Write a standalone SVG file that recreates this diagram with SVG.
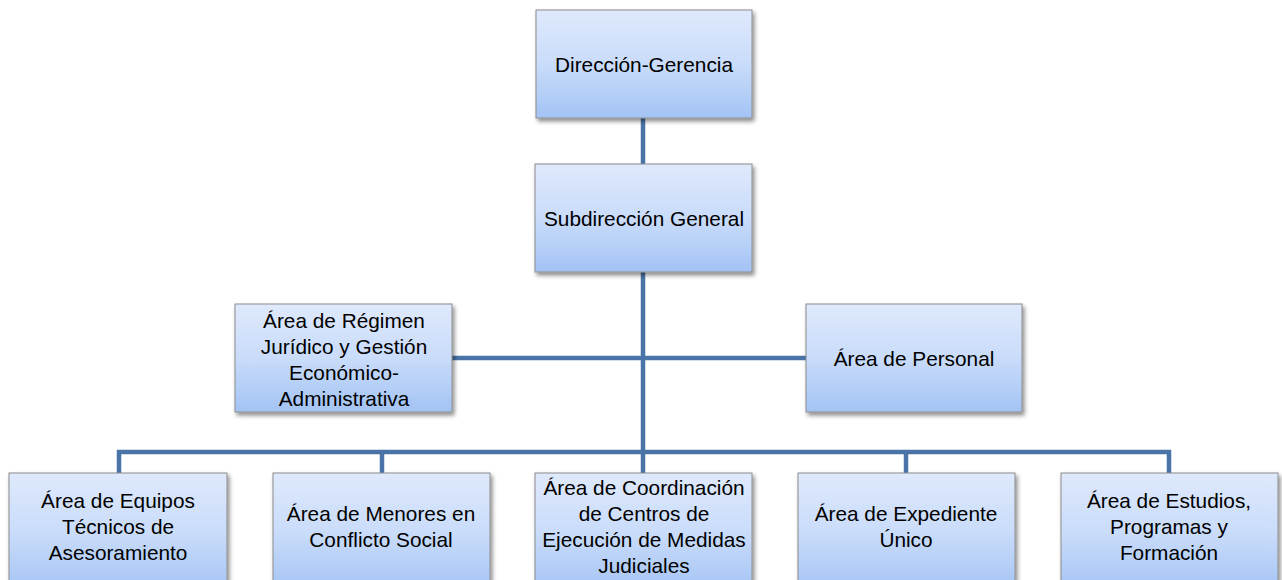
<svg xmlns="http://www.w3.org/2000/svg" width="1282" height="580" viewBox="0 0 1282 580">
<defs>
<linearGradient id="g" x1="0" y1="0" x2="0" y2="1">
<stop offset="0" stop-color="#dfe9fc"/>
<stop offset="0.5" stop-color="#c9dcfa"/>
<stop offset="1" stop-color="#a3c3f4"/>
</linearGradient>
<filter id="sh" x="-10%" y="-10%" width="125%" height="130%">
<feDropShadow dx="2" dy="3" stdDeviation="2" flood-color="#000" flood-opacity="0.45"/>
</filter>
</defs>
<style>
.box{fill:url(#g);stroke:#8c8c8c;stroke-width:1;filter:url(#sh)}
.t{font-family:"Liberation Sans",Arial,sans-serif;font-size:20.8px;fill:#000;text-anchor:middle}
.c{fill:none;stroke:#4a74a8;stroke-width:4.5}
</style>
<rect width="1282" height="580" fill="#fff"/>
<g id="connectors">
<line class="c" x1="643" y1="118" x2="643" y2="164"/>
<line class="c" x1="643" y1="272" x2="643" y2="473"/>
<line class="c" x1="452" y1="358" x2="806" y2="358"/>
<polyline class="c" points="119,473 119,452 1169,452 1169,473"/>
<line class="c" x1="382" y1="452" x2="382" y2="473"/>
<line class="c" x1="906" y1="452" x2="906" y2="473"/>
</g>
<g id="n_direccion">
<rect class="box" x="536" y="10" width="216" height="108"/>
<text class="t" x="644" y="72">Dirección-Gerencia</text>
</g>
<g id="n_subdireccion">
<rect class="box" x="535" y="164" width="217" height="108"/>
<text class="t" x="644" y="226">Subdirección General</text>
</g>
<g id="n_regimen">
<rect class="box" x="235" y="304" width="217" height="108"/>
<text class="t" x="344" y="328">Área de Régimen</text>
<text class="t" x="344" y="354">Jurídico y Gestión</text>
<text class="t" x="344" y="380">Económico-</text>
<text class="t" x="344" y="406">Administrativa</text>
</g>
<g id="n_personal">
<rect class="box" x="806" y="304" width="216" height="108"/>
<text class="t" x="914" y="366">Área de Personal</text>
</g>
<g id="n_equipos">
<rect class="box" x="9" y="473" width="218" height="120"/>
<text class="t" x="118" y="508">Área de Equipos</text>
<text class="t" x="118" y="534">Técnicos de</text>
<text class="t" x="118" y="560">Asesoramiento</text>
</g>
<g id="n_menores">
<rect class="box" x="273" y="473" width="217" height="120"/>
<text class="t" x="381" y="521">Área de Menores en</text>
<text class="t" x="381" y="547">Conflicto Social</text>
</g>
<g id="n_coordinacion">
<rect class="box" x="535" y="473" width="217" height="120"/>
<text class="t" x="644" y="495">Área de Coordinación</text>
<text class="t" x="644" y="521">de Centros de</text>
<text class="t" x="644" y="547">Ejecución de Medidas</text>
<text class="t" x="644" y="573">Judiciales</text>
</g>
<g id="n_expediente">
<rect class="box" x="798" y="473" width="217" height="120"/>
<text class="t" x="906" y="521">Área de Expediente</text>
<text class="t" x="906" y="547">Único</text>
</g>
<g id="n_estudios">
<rect class="box" x="1061" y="473" width="217" height="120"/>
<text class="t" x="1169" y="508">Área de Estudios,</text>
<text class="t" x="1169" y="534">Programas y</text>
<text class="t" x="1169" y="560">Formación</text>
</g>
</svg>
